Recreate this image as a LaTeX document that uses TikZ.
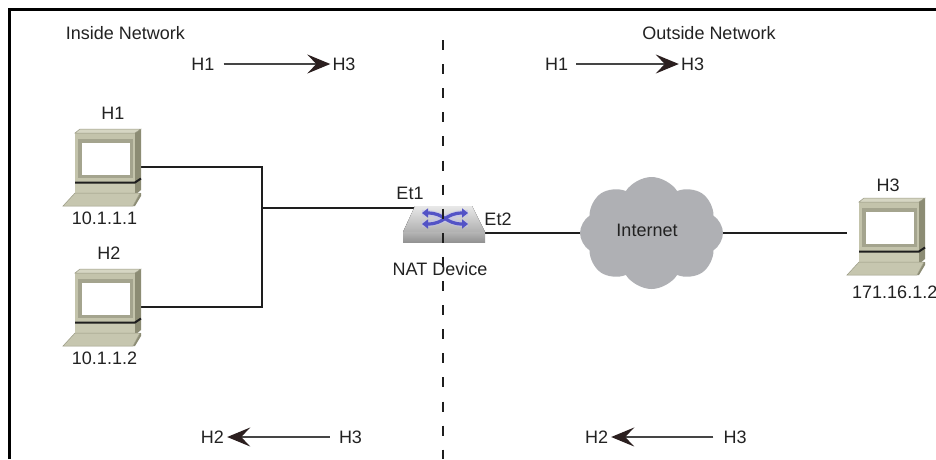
\documentclass[tikz,border=0pt]{standalone}
\usepackage{fontspec}
\setmainfont{Liberation Sans}
\usetikzlibrary{shapes.symbols,arrows.meta}
\pgfdeclarelayer{bg}
\pgfsetlayers{bg,main}
\definecolor{pctop}{HTML}{D6D6C3}
\definecolor{pcfront}{HTML}{C3C3AB}
\definecolor{pcside}{HTML}{8C8C74}
\definecolor{pcframe}{HTML}{A4A48E}
\definecolor{pcbase}{HTML}{C9C9B2}
\definecolor{pckey}{HTML}{C6C6AF}
\definecolor{pcedge}{HTML}{9A9A84}
\definecolor{cloudgray}{HTML}{AFB0B4}
\definecolor{txt}{HTML}{222222}
\definecolor{connc}{HTML}{1E1E1E}
\definecolor{flowc}{HTML}{454545}
\definecolor{tipc}{HTML}{2B1F1F}
\definecolor{swblue}{HTML}{5353C6}
\tikzset{
  x=1pt, y=-1pt,
  lbl/.style={inner sep=0pt, font=\fontsize{18}{21}\selectfont, text=txt},
  conn/.style={draw=connc, line width=2.2pt},
  flow/.style={draw=flowc, line width=1.3pt, -{Stealth[length=23pt,width=19pt,inset=9pt,color=tipc]}},
  swarrow/.style={draw=swblue, line width=3.2pt, {Triangle[length=6pt,width=9pt]}-{Triangle[length=6pt,width=9pt]}},
  pics/computer/.style={code={
    \fill[pctop] (17,0) -- (78,0) -- (72,4) -- (12,4) -- cycle;
    \fill[pcside] (72,4) -- (78,0) -- (78,61) -- (72,66) -- cycle;
    \fill[pcfront] (12,4) rectangle (72,53);
    \fill[pcframe] (15,10) rectangle (70,49);
    \fill[white] (19,14) rectangle (67,46);
    \fill[pcbase] (12,54) rectangle (72,64);
    \fill[pcside] (70,77) -- (77,64) -- (78,64) -- (78,67) -- (72,77) -- cycle;
    \fill[pckey] (12,64) -- (77,64) -- (70,77) -- (0,77) -- cycle;
    \draw[pcedge, line width=0.5pt] (12,64) -- (77,64) -- (70,77) -- (0,77) -- cycle;
    \draw[pcedge, line width=0.5pt] (17,0) -- (78,0) -- (72,4) -- (12,4) -- cycle;
    \draw[line width=2pt, connc] (12,53.5) -- (72,53.5) -- (78,49.5);
    \node[inner sep=0pt, minimum width=78pt, minimum height=77pt] (-box) at (39,38.5) {};
    \coordinate (-east) at (78,38);
    \coordinate (-west) at (0,35);
  }},
}
\begin{document}
\begin{tikzpicture}
\useasboundingbox (0,0) rectangle (936,459);
\begin{pgfonlayer}{bg}
\fill[white] (0,0) rectangle (936,459);
\end{pgfonlayer}

% frame (top and left)
\draw[line width=3pt, black] (9.5,459) -- (9.5,9.5) -- (936,9.5);

% region titles
\node[lbl] (inside) at (125.5,33) {Inside Network};
\node[lbl] (outside) at (709,33) {Outside Network};

% computers
\pic (h1) at (63,129) {computer};
\pic (h2) at (63,269) {computer};
\pic (h3) at (847,198) {computer};

\node[lbl] (h1name) at (113,113) {H1};
\node[lbl] (h1ip) at (104.5,218) {10.1.1.1};
\node[lbl] (h2name) at (109,253) {H2};
\node[lbl] (h2ip) at (104.5,358) {10.1.1.2};
\node[lbl] (h3name) at (888,185) {H3};
\node[lbl, anchor=west] (h3ip) at (852,292) {171.16.1.2};

% NAT device (switch)
\fill[top color=white!82!gray, bottom color=gray!62] (415,206) -- (472,206) -- (485,232) -- (403,232) -- cycle;
\fill[top color=gray!58, bottom color=gray!85] (403,232) rectangle (485,242);
\draw[swblue!35, line width=6.5pt, opacity=0.6] (422,213) .. controls (445,213) and (445,224) .. (468,224);
\draw[swblue!35, line width=6.5pt, opacity=0.6] (422,224) .. controls (445,224) and (445,213) .. (468,213);
\draw[swarrow] (422,213) .. controls (445,213) and (445,224) .. (468,224);
\draw[swarrow] (422,224) .. controls (445,224) and (445,213) .. (468,213);
\node[inner sep=0pt, minimum width=82pt, minimum height=36pt] (nat) at (444,224) {};
\coordinate (et1) at (415,208);
\coordinate (et2) at (485,233);
\node[lbl] (et1lbl) at (410,193) {Et1};
\node[lbl] (et2lbl) at (498,219) {Et2};
\node[lbl] (natlbl) at (440,269) {NAT Device};

% Internet cloud
\node[cloud, cloud puffs=8, cloud puff arc=115, aspect=1.3, fill=cloudgray, draw=none,
      minimum width=143pt, minimum height=112pt, inner sep=0pt] (cloud) at (651.5,233) {};
\node[lbl] (netlbl) at (647,230) {Internet};

% connectors
\coordinate (jn) at (262,208);
\begin{pgfonlayer}{bg}
\draw[conn] (h1-east) -| (jn);
\draw[conn] (h2-east) -| (jn);
\draw[conn] (jn) -- (et1);
\draw[conn] (et2) -- (cloud.center);
\draw[conn] (cloud.center) -- (h3-west);
\end{pgfonlayer}

% dashed boundary
\coordinate (dtop) at (442.5,40);
\coordinate (dbot) at (442.5,459);
\draw[connc, line width=2pt, dash pattern=on 10pt off 14.1pt] (dtop) -- (dbot);

% traffic direction arrows
\node[lbl] (fa1) at (203,64) {H1};
\node[lbl] (fa3) at (344,64) {H3};
\draw[flow, shorten <=9pt, shorten >=2pt] (fa1.east) -- (fa3.west);
\node[lbl] (fb1) at (556.5,64) {H1};
\node[lbl] (fb3) at (692.5,64) {H3};
\draw[flow, shorten <=8pt, shorten >=2pt] (fb1.east) -- (fb3.west);
\node[lbl] (fc2) at (212.5,437) {H2};
\node[lbl] (fc3) at (350.5,437) {H3};
\draw[flow, shorten <=9pt, shorten >=3pt] (fc3.west) -- (fc2.east);
\node[lbl] (fd2) at (596.5,437) {H2};
\node[lbl] (fd3) at (735,437) {H3};
\draw[flow, shorten <=10pt, shorten >=3pt] (fd3.west) -- (fd2.east);
\end{tikzpicture}
\end{document}
